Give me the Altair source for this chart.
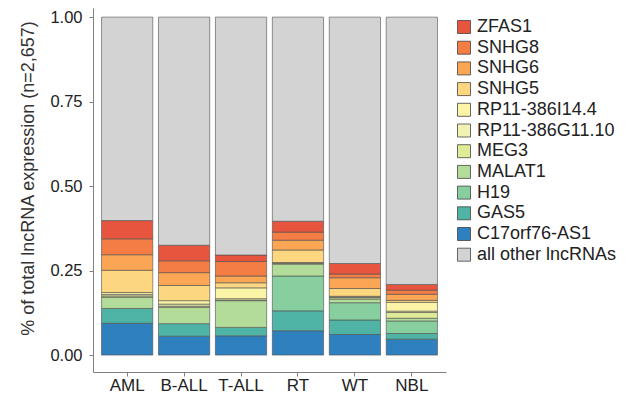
import altair as alt
import pandas as pd

groups = ["AML", "B-ALL", "T-ALL", "RT", "WT", "NBL"]

# stacking order, bottom to top
genes = ["C17orf76-AS1", "GAS5", "H19", "MALAT1", "MEG3", "RP11-386G11.10",
         "RP11-386I14.4", "SNHG5", "SNHG6", "SNHG8", "ZFAS1", "all other lncRNAs"]

aml  = [0.094, 0.044, 0.000, 0.033, 0.004, 0.004, 0.006, 0.066, 0.046, 0.047, 0.054, 0.602]
ball = [0.056, 0.037, 0.000, 0.048, 0.004, 0.006, 0.010, 0.045, 0.038, 0.035, 0.046, 0.675]
tall = [0.057, 0.025, 0.000, 0.079, 0.002, 0.004, 0.032, 0.015, 0.020, 0.043, 0.019, 0.704]
rt   = [0.072, 0.059, 0.103, 0.035, 0.002, 0.001, 0.002, 0.037, 0.029, 0.024, 0.032, 0.604]
wt   = [0.061, 0.043, 0.051, 0.011, 0.004, 0.002, 0.002, 0.023, 0.032, 0.011, 0.031, 0.729]
nbl  = [0.047, 0.017, 0.037, 0.008, 0.017, 0.004, 0.026, 0.006, 0.018, 0.012, 0.017, 0.791]

legend_order = ["ZFAS1", "SNHG8", "SNHG6", "SNHG5", "RP11-386I14.4", "RP11-386G11.10",
                "MEG3", "MALAT1", "H19", "GAS5", "C17orf76-AS1", "all other lncRNAs"]
colors = ["#E8553F", "#F47C45", "#FBA654", "#FDD780", "#FBF4A6", "#F0F3B4",
          "#DFEB97", "#B3DC9A", "#88CFA0", "#4FB3A6", "#2F80BE", "#D3D3D3"]

series = {"AML": aml, "B-ALL": ball, "T-ALL": tall, "RT": rt, "WT": wt, "NBL": nbl}
rows = []
for g in groups:
    for i, (gene, v) in enumerate(zip(genes, series[g])):
        if v > 0:
            rows.append({"group": g, "gene": gene, "value": v, "ord": i})
df = pd.DataFrame(rows)

font = "Liberation Sans"

chart = alt.Chart(df).mark_bar(stroke="#4d4d4d", strokeWidth=0.6).encode(
    x=alt.X("group:N", sort=groups,
            scale=alt.Scale(paddingInner=0.1, paddingOuter=0.15),
            axis=alt.Axis(title=None, labelAngle=0, labelFontSize=17, labelColor="#222",
                          labelFont=font, tickColor="#7f7f7f", domainColor="#7f7f7f",
                          tickSize=4, labelPadding=1)),
    y=alt.Y("value:Q", stack="zero",
            scale=alt.Scale(domain=[-0.05, 1.027], nice=False, zero=False),
            axis=alt.Axis(title="% of total lncRNA expression (n=2,657)",
                          values=[0, 0.25, 0.5, 0.75, 1.0], format=".2f",
                          labelFontSize=16.5, labelColor="#222", labelFont=font,
                          tickColor="#7f7f7f", domainColor="#7f7f7f", tickSize=4,
                          labelPadding=7, grid=False,
                          titleFont=font, titleFontSize=18, titleFontWeight="normal",
                          titleColor="#333", titleAngle=270, titleX=-65, titleY=170,
                          titleAlign="center", titleBaseline="middle")),
    color=alt.Color("gene:N",
                    scale=alt.Scale(domain=legend_order, range=colors),
                    legend=alt.Legend(title=None, orient="none", legendX=362, legendY=10,
                                      symbolType="square", symbolSize=169,
                                      symbolStrokeColor="#444", symbolStrokeWidth=0.8,
                                      labelFontSize=18, labelFont=font, labelColor="#222",
                                      rowPadding=2.7, labelOffset=4)),
    order=alt.Order("ord:Q", sort="ascending"),
).properties(
    width=353, height=364,
    autosize=alt.AutoSizeParams(type="none"),
    padding={"left": 85, "top": 0, "right": 182, "bottom": 24},
).configure_view(stroke=None)

chart.save("out.html", embed_options={"renderer": "svg", "actions": False})
